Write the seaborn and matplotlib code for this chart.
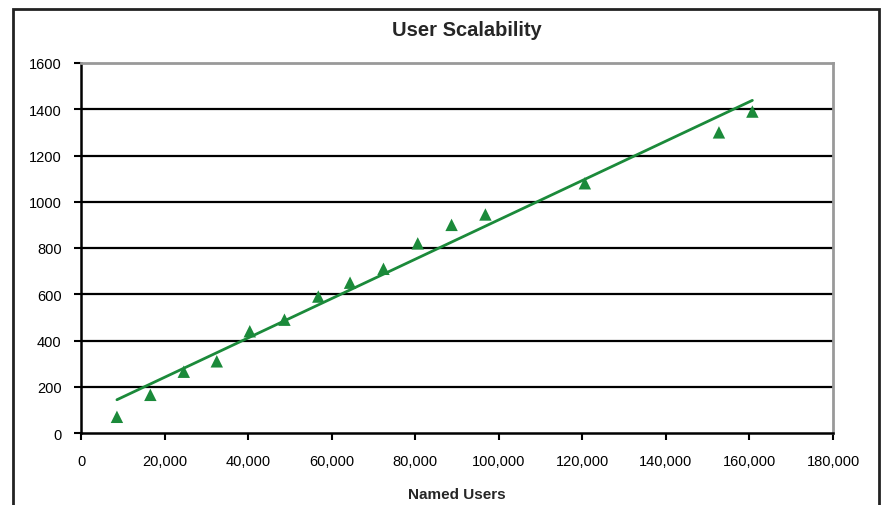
import pandas as pd
import seaborn as sns
import matplotlib.pyplot as plt
from matplotlib.patches import Rectangle

# Data
named_users = [8600, 16600, 24600, 32500, 40400, 48700, 56800, 64400,
               72400, 80600, 88700, 96800, 120600, 152700, 160700]
throughput = [70, 165, 265, 310, 440, 490, 590, 650,
              710, 820, 900, 945, 1080, 1300, 1390]
x_ticks = list(range(0, 180001, 20000))
x_tick_labels = ['0' if t == 0 else f'{t:,}' for t in x_ticks]
y_ticks = list(range(0, 1601, 200))

df = pd.DataFrame({'Named Users': named_users, 'Value': throughput})

sns.set_style("white")
plt.rcParams['font.family'] = ['Liberation Sans', 'DejaVu Sans']

fig = plt.figure(figsize=(8.85, 5.06), dpi=100)
ax = fig.add_axes([81 / 885, 1 - 434 / 506, (833 - 81) / 885, (434 - 64) / 506])

green = '#1b8a3a'

# horizontal gridlines
for yv in y_ticks[1:-1]:
    ax.axhline(yv, color='black', lw=1.6, zorder=1)

sns.regplot(data=df, x='Named Users', y='Value', ci=None, ax=ax,
            marker='^', color=green,
            scatter_kws={'s': 80, 'edgecolor': 'none', 'alpha': 1, 'zorder': 3},
            line_kws={'lw': 2, 'color': green, 'zorder': 2})

ax.set_xlim(0, 180000)
ax.set_ylim(0, 1600)
ax.set_xticks(x_ticks)
ax.set_xticklabels(x_tick_labels)
ax.set_yticks(y_ticks)
ax.tick_params(axis='both', direction='out', length=5, width=1.5, color='black',
               labelsize=10.5, labelcolor='#000000')
ax.tick_params(axis='x', pad=10)
ax.tick_params(axis='y', pad=9)
ax.xaxis.set_ticks_position('bottom')
ax.yaxis.set_ticks_position('left')

for side in ['left', 'bottom']:
    ax.spines[side].set_color('black')
    ax.spines[side].set_linewidth(1.8)
for side in ['top', 'right']:
    ax.spines[side].set_color('#999999')
    ax.spines[side].set_linewidth(2)

ax.set_ylabel('')
ax.set_xlabel('Named Users', fontsize=11, fontweight='bold', labelpad=14)

fig.text(467 / 885, 1 - 31 / 506, 'User Scalability', ha='center', va='center',
         fontsize=14.5, fontweight='bold')

# outer chart frame
fig.patches.append(Rectangle((13 / 885, -0.05), (879 - 13) / 885, 1.05 - 10 / 506,
                             transform=fig.transFigure, fill=False,
                             edgecolor='#222222', lw=2))

fig.savefig('out.png', dpi=100)
